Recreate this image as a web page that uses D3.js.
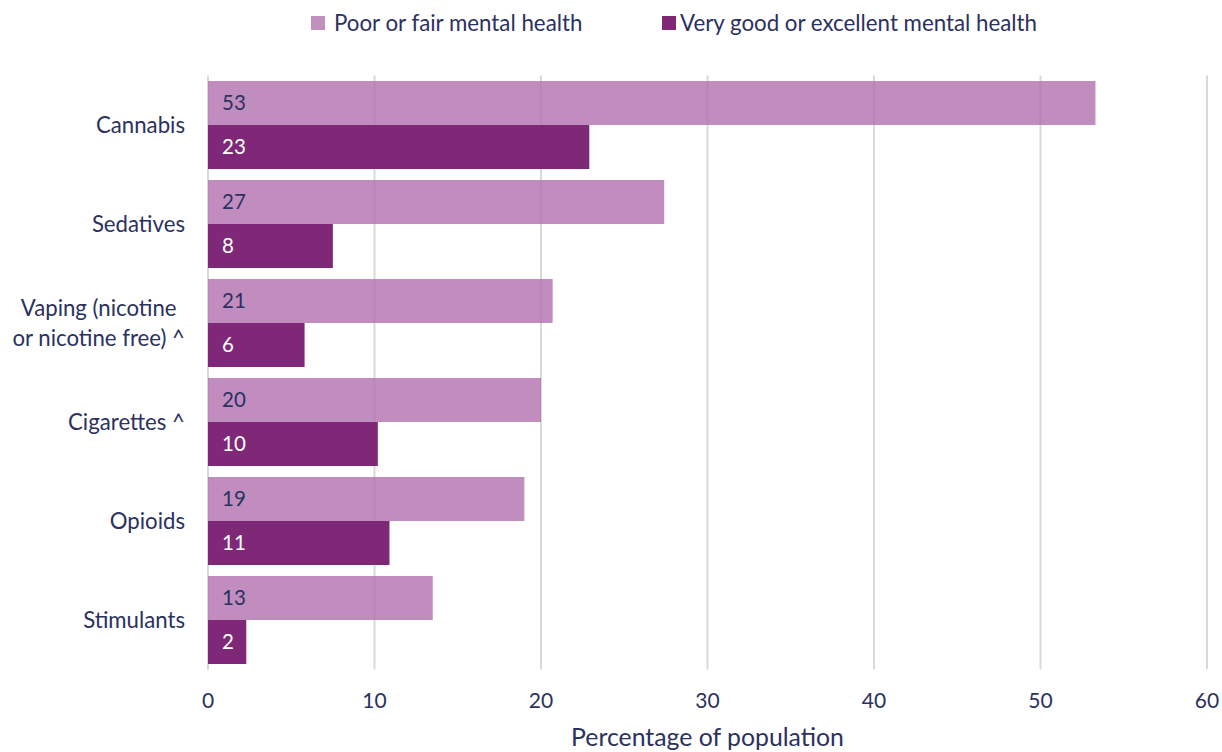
<!DOCTYPE html>
<html>
<head>
<meta charset="utf-8">
<script src="https://cdn.jsdelivr.net/npm/d3@7"></script>
<style>
  body { margin: 0; background: #fff; }
  text { font-family: Lato, "Open Sans", sans-serif; fill: #2b3160; }
</style>
</head>
<body>
<div id="chart"></div>
<script>
// chart data
var categories = ["Cannabis", "Sedatives", "Vaping (nicotine|or nicotine free) ^", "Cigarettes ^", "Opioids", "Stimulants"];
var poorValues = [53.3, 27.4, 20.7, 20.0, 19.0, 13.5];
var goodValues = [22.9, 7.5, 5.8, 10.2, 10.9, 2.3];
var poorLabels = ["53", "27", "21", "20", "19", "13"];
var goodLabels = ["23", "8", "6", "10", "11", "2"];
var seriesNames = ["Poor or fair mental health", "Very good or excellent mental health"];
var xTicks = [0, 10, 20, 30, 40, 50, 60];

var svgWidth = 1222;
var svgHeight = 752;

var margin = {top: 75.5, right: 15, bottom: 82.5, left: 208};
var width = svgWidth - margin.left - margin.right;
var height = svgHeight - margin.top - margin.bottom;

var lightColor = "#b170af";
var darkColor = "#7f2878";

var svg = d3.select("#chart")
  .append("svg")
  .attr("width", svgWidth)
  .attr("height", svgHeight);

var chartGroup = svg.append("g")
  .attr("transform", `translate(${margin.left}, ${margin.top})`);

var data = categories.map((c, i) => ({
  cat: c, poor: poorValues[i], good: goodValues[i],
  poorLabel: poorLabels[i], goodLabel: goodLabels[i]
}));

var xScale = d3.scaleLinear().domain([0, 60]).range([0, width]);
var yScale = d3.scaleBand().domain(categories).range([0, height]).paddingInner(0.111).paddingOuter(0.0555);
var subScale = d3.scaleBand().domain(["poor", "good"]).range([0, yScale.bandwidth()]);

// gridlines
chartGroup.append("g")
  .selectAll("line")
  .data(xTicks)
  .enter()
  .append("line")
  .attr("x1", d => xScale(d))
  .attr("x2", d => xScale(d))
  .attr("y1", 0)
  .attr("y2", height)
  .attr("stroke", "#d9d9d9")
  .attr("stroke-width", 2);

// dark bars
chartGroup.append("g")
  .selectAll("rect")
  .data(data)
  .enter()
  .append("rect")
  .attr("x", xScale(0))
  .attr("y", d => yScale(d.cat) + subScale("good"))
  .attr("width", d => xScale(d.good) - xScale(0))
  .attr("height", subScale.bandwidth())
  .attr("fill", darkColor);

// light bars (slightly see-through so gridlines show)
chartGroup.append("g")
  .selectAll("rect")
  .data(data)
  .enter()
  .append("rect")
  .attr("x", xScale(0))
  .attr("y", d => yScale(d.cat) + subScale("poor"))
  .attr("width", d => xScale(d.poor) - xScale(0))
  .attr("height", subScale.bandwidth())
  .attr("fill", lightColor)
  .attr("opacity", 0.8);

// value labels
chartGroup.append("g")
  .selectAll("text")
  .data(data)
  .enter()
  .append("text")
  .attr("x", 14)
  .attr("y", d => yScale(d.cat) + subScale("poor") + subScale.bandwidth() / 2)
  .attr("dy", "0.35em")
  .attr("font-size", "20.5px")
  .text(d => d.poorLabel);

chartGroup.append("g")
  .selectAll("text")
  .data(data)
  .enter()
  .append("text")
  .attr("x", 14)
  .attr("y", d => yScale(d.cat) + subScale("good") + subScale.bandwidth() / 2)
  .attr("dy", "0.35em")
  .attr("font-size", "20.5px")
  .style("fill", "#ffffff")
  .text(d => d.goodLabel);

// category labels - multi line ones are centred to each other, block right aligned
var catGroup = chartGroup.append("g");
categories.forEach(function(c) {
  var lines = c.split("|");
  var cy = yScale(c) + yScale.bandwidth() / 2;
  var t = catGroup.append("text")
    .attr("font-size", "22.2px")
    .attr("text-anchor", "middle");
  lines.forEach(function(l, j) {
    t.append("tspan")
      .attr("x", 0)
      .attr("y", cy + (j - (lines.length - 1) / 2) * 30)
      .attr("dy", "0.35em")
      .text(l);
  });
  var w = t.node().getBBox().width;
  t.selectAll("tspan").attr("x", -23 - w / 2);
});

// x tick labels
chartGroup.append("g")
  .selectAll("text")
  .data(xTicks)
  .enter()
  .append("text")
  .attr("x", d => xScale(d))
  .attr("y", height + 31)
  .attr("dy", "0.35em")
  .attr("text-anchor", "middle")
  .attr("font-size", "21px")
  .text(d => d);

// x axis title
chartGroup.append("text")
  .attr("x", width / 2)
  .attr("y", height + 68)
  .attr("dy", "0.35em")
  .attr("text-anchor", "middle")
  .attr("font-size", "24.8px")
  .text("Percentage of population");

// legend
var legend = svg.append("g");
var legendX = [311, 662];
var legendColors = ["#c090be", darkColor];
seriesNames.forEach(function(n, i) {
  legend.append("rect")
    .attr("x", legendX[i])
    .attr("y", 16)
    .attr("width", 14)
    .attr("height", 14)
    .attr("fill", legendColors[i]);
  legend.append("text")
    .attr("x", legendX[i] + (i == 0 ? 23 : 18))
    .attr("y", 23)
    .attr("dy", "0.35em")
    .attr("font-size", "22.3px")
    .text(n);
});
</script>
</body>
</html>
